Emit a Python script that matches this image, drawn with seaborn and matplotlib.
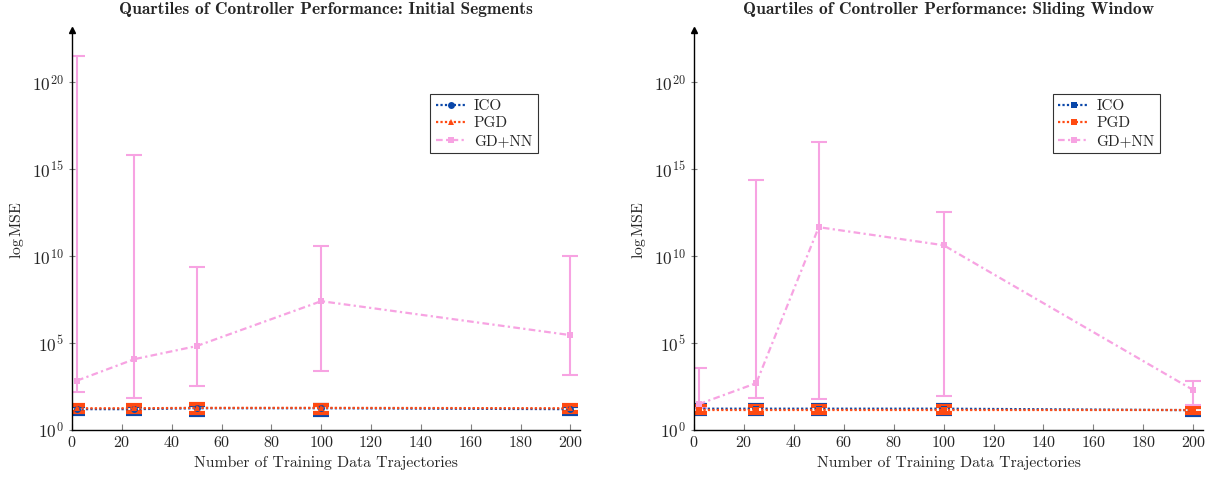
import matplotlib
matplotlib.use("Agg")
import matplotlib.pyplot as plt
import seaborn as sns
import pandas as pd
import numpy as np

# training data sizes
n_traj = [2, 25, 50, 100, 200]
methods = ["ICO", "PGD", "GD+NN"]

# Initial segments: median, first and third quartile of MSE
init_ico_med = [16, 16, 18, 18, 16]
init_ico_q1 = [8, 8, 7.5, 7.5, 8]
init_ico_q3 = [24, 24, 28, 27, 24]
init_pgd_med = [18, 18, 19, 19, 18]
init_pgd_q1 = [11, 11, 9, 10, 11]
init_pgd_q3 = [27, 27, 30, 28, 27]
init_nn_med = [7e2, 1.2e4, 6.8e4, 2.6e7, 2.9e5]
init_nn_q1 = [1.5e2, 7e1, 3.4e2, 2.5e3, 1.4e3]
init_nn_q3 = [3.5e21, 7e15, 2.3e9, 3.7e10, 1.1e10]

# Sliding window
slide_ico_med = [17, 17, 17, 17, 14]
slide_ico_q1 = [8, 8, 8, 8, 7]
slide_ico_q3 = [26, 26, 26, 26, 22]
slide_pgd_med = [15, 15, 15, 15, 15]
slide_pgd_q1 = [9, 9, 9, 9, 9]
slide_pgd_q3 = [24, 24, 24, 24, 21]
slide_nn_med = [31, 5e2, 4.7e11, 4.3e10, 2e2]
slide_nn_q1 = [18, 69, 60, 89, 28]
slide_nn_q3 = [3.6e3, 2.5e14, 3.5e16, 3.4e12, 6.3e2]

colors = {"ICO": "#0a47a9", "PGD": "#ff4a12", "GD+NN": "#f7a3e2"}
dashes = {"ICO": (1, 1), "PGD": (1, 1), "GD+NN": (3, 1.5, 1, 1.5)}

sns.set_style("ticks")
plt.rcParams["font.family"] = ["cmr10", "DejaVu Serif"]
plt.rcParams["mathtext.fontset"] = "cm"
plt.rcParams["axes.formatter.use_mathtext"] = True
plt.rcParams["font.size"] = 11


def panel(ax, data, markers, title):
    rows = []
    for m in methods:
        med, q1, q3 = data[m]
        for x, v in zip(n_traj, med):
            rows.append({"x": x, "mse": v, "method": m})
    df = pd.DataFrame(rows)
    for m in methods:
        med, q1, q3 = data[m]
        med = np.array(med)
        ax.errorbar(n_traj, med, yerr=[med - np.array(q1), np.array(q3) - med],
                    fmt="none", ecolor=colors[m], elinewidth=1.5,
                    capsize=6, capthick=1.5 if m == "GD+NN" else 3,
                    zorder=2)
    sns.lineplot(data=df, x="x", y="mse", hue="method", style="method",
                 hue_order=methods, style_order=methods, palette=colors,
                 markers=markers, dashes=dashes, markersize=5, markeredgewidth=0,
                 linewidth=1.6, ax=ax, zorder=3)
    ax.set_yscale("log")
    ax.set_ylim(1, 1e23)
    ax.set_xlim(0, 204)
    ax.set_xticks([0, 20, 40, 60, 80, 100, 120, 140, 160, 180, 200])
    ax.set_yticks([1, 1e5, 1e10, 1e15, 1e20])
    ax.minorticks_off()
    ax.tick_params(axis="x", direction="in", length=4, color="gray", labelsize=11.5)
    ax.tick_params(axis="y", direction="inout", length=5, color="gray", labelsize=12.5)
    sns.despine(ax=ax)
    for s in ["left", "bottom"]:
        ax.spines[s].set_linewidth(1.0)
        ax.spines[s].set_color("black")
    ax.plot(0, 1, marker="^", color="black", markersize=4,
            transform=ax.transAxes, clip_on=False)
    ax.set_xlabel("Number of Training Data Trajectories", fontsize=11.3)
    ax.set_ylabel(r"$\log \mathrm{MSE}$", fontsize=11.3)
    ax.set_title(title, fontsize=12.5, family="cmb10", pad=12)
    leg = ax.legend(loc="upper left", bbox_to_anchor=(0.69, 0.86), title=None,
                    frameon=True, fancybox=False, edgecolor="black",
                    fontsize=11, handlelength=2.0, borderpad=0.35, labelspacing=0.25,
                    handletextpad=0.5)
    leg.get_frame().set_linewidth(0.8)


fig = plt.figure(figsize=(12.13, 4.8), dpi=100)
ax1 = fig.add_axes([0.0594, 0.104, 0.419, 0.833])
ax2 = fig.add_axes([0.572, 0.104, 0.42, 0.833])

init_data = {"ICO": (init_ico_med, init_ico_q1, init_ico_q3),
             "PGD": (init_pgd_med, init_pgd_q1, init_pgd_q3),
             "GD+NN": (init_nn_med, init_nn_q1, init_nn_q3)}
slide_data = {"ICO": (slide_ico_med, slide_ico_q1, slide_ico_q3),
              "PGD": (slide_pgd_med, slide_pgd_q1, slide_pgd_q3),
              "GD+NN": (slide_nn_med, slide_nn_q1, slide_nn_q3)}

panel(ax1, init_data, {"ICO": "o", "PGD": "^", "GD+NN": "s"},
      "Quartiles of Controller Performance: Initial Segments")
panel(ax2, slide_data, {"ICO": "s", "PGD": "s", "GD+NN": "s"},
      "Quartiles of Controller Performance: Sliding Window")

fig.savefig("out.png", dpi=100)
